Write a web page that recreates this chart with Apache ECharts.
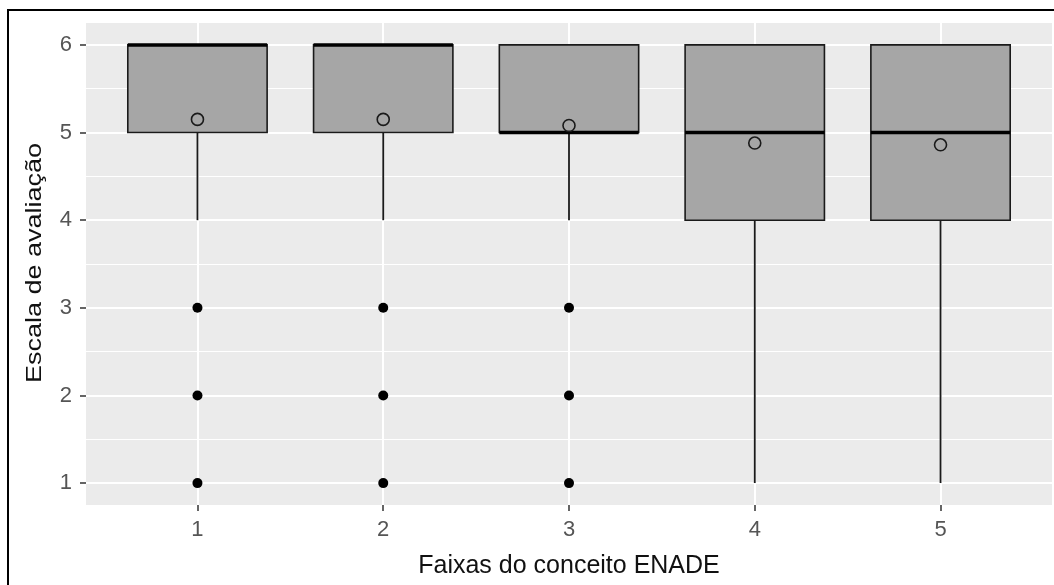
<!DOCTYPE html>
<html>
<head>
<meta charset="utf-8">
<script src="https://cdn.jsdelivr.net/npm/echarts@6/dist/echarts.min.js"></script>
<style>
html,body{margin:0;padding:0;background:#fff;}
#chart{width:1054px;height:585px;}
</style>
</head>
<body>
<div id="chart"></div>
<script>
// ---- data ----
const categories = ['1', '2', '3', '4', '5'];
const whiskerLow = [4, 4, 4, 1, 1];
const q1 = [5, 5, 5, 4, 4];
const median = [6, 6, 5, 5, 5];
const q3 = [6, 6, 6, 6, 6];
const whiskerHigh = [6, 6, 6, 6, 6];
const means = [5.15, 5.15, 5.08, 4.88, 4.86];
const outliers = [[3, 2, 1], [3, 2, 1], [3, 2, 1], [], []];
const yTicks = [1, 2, 3, 4, 5, 6];
const yMinor = [1.5, 2.5, 3.5, 4.5, 5.5];
const xTitle = 'Faixas do conceito ENADE';
const yTitle = 'Escala de avaliação';

// ---- build ----
const xPos = categories.map((c, i) => i + 1);
const boxData = xPos.map((x, i) => [x, whiskerLow[i], q1[i], median[i], q3[i], whiskerHigh[i]]);
const meanData = xPos.map((x, i) => [x, means[i]]);
const outlierData = [];
outliers.forEach((arr, i) => arr.forEach(v => outlierData.push([xPos[i], v])));

const FONT = "'Liberation Sans', Arial, sans-serif";
const chart = echarts.init(document.getElementById('chart'));

chart.setOption({
  backgroundColor: '#ffffff',
  animation: false,
  grid: {
    left: 86, top: 23, right: 2, bottom: 80,
    show: true, backgroundColor: '#EBEBEB', borderWidth: 0
  },
  xAxis: {
    type: 'value', min: 0.4, max: 5.6,
    axisLine: { show: false },
    axisTick: { show: true, length: 6, customValues: xPos, lineStyle: { color: '#333', width: 1.5 } },
    axisLabel: {
      customValues: xPos, margin: 14, fontFamily: FONT, fontSize: 22, color: '#555555',
      formatter: v => categories[Math.round(v) - 1]
    },
    splitLine: { show: true, lineStyle: { color: '#ffffff', width: 2 } }
  },
  yAxis: {
    type: 'value', min: 0.75, max: 6.25,
    axisLine: { show: false },
    axisTick: { show: true, length: 6, customValues: yTicks, lineStyle: { color: '#333', width: 1.5 } },
    axisLabel: { customValues: yTicks, margin: 14, fontFamily: FONT, fontSize: 22, color: '#555555' },
    splitLine: { show: true, lineStyle: { color: '#ffffff', width: 2 } }
  },
  series: [
    {
      type: 'line', data: [], z: 1, silent: true,
      markLine: {
        z: 1, silent: true, symbol: 'none', label: { show: false },
        lineStyle: { color: '#ffffff', width: 1, type: 'solid' },
        data: yMinor.map(v => ({ yAxis: v }))
      }
    },
    {
      type: 'custom', z: 3,
      data: boxData,
      encode: { x: 0, y: [1, 2, 3, 4, 5] },
      renderItem: function (params, api) {
        const x = api.value(0);
        const pLow = api.coord([x, api.value(1)]);
        const pQ1 = api.coord([x, api.value(2)]);
        const pMed = api.coord([x, api.value(3)]);
        const pQ3 = api.coord([x, api.value(4)]);
        const pHigh = api.coord([x, api.value(5)]);
        const hw = api.size([0.75, 0])[0] / 2;
        return {
          type: 'group',
          children: [
            { type: 'line', shape: { x1: pQ1[0], y1: pQ1[1], x2: pLow[0], y2: pLow[1] },
              style: { stroke: '#1a1a1a', lineWidth: 1.8 } },
            { type: 'line', shape: { x1: pQ3[0], y1: pQ3[1], x2: pHigh[0], y2: pHigh[1] },
              style: { stroke: '#1a1a1a', lineWidth: 1.8 } },
            { type: 'rect', shape: { x: pQ3[0] - hw, y: pQ3[1], width: 2 * hw, height: pQ1[1] - pQ3[1] },
              style: { fill: '#A6A6A6', stroke: '#1a1a1a', lineWidth: 1.6 } },
            { type: 'line', shape: { x1: pMed[0] - hw, y1: pMed[1], x2: pMed[0] + hw, y2: pMed[1] },
              style: { stroke: '#000', lineWidth: 3.5 } }
          ]
        };
      }
    },
    {
      type: 'scatter', z: 4, data: outlierData,
      symbol: 'circle', symbolSize: 10,
      itemStyle: { color: '#000', opacity: 1 }
    },
    {
      type: 'scatter', z: 5, data: meanData,
      symbol: 'circle', symbolSize: 12,
      itemStyle: { color: 'rgba(0,0,0,0)', borderColor: '#1a1a1a', borderWidth: 1.6, opacity: 1 }
    }
  ],
  graphic: [
    { type: 'text', silent: true, x: 569, y: 566,
      style: { text: xTitle, font: '25px ' + FONT, fill: '#111', align: 'center', verticalAlign: 'middle' } },
    { type: 'text', silent: true, x: 35, y: 263, rotation: Math.PI / 2, scaleY: 0.8,
      style: { text: yTitle, font: '27px ' + FONT, fill: '#111', align: 'center', verticalAlign: 'middle' } },
    { type: 'rect', z: 100, silent: true,
      shape: { x: 8, y: 10, width: 1100, height: 700 },
      style: { fill: 'none', stroke: '#000', lineWidth: 2 } }
  ]
});
</script>
</body>
</html>
